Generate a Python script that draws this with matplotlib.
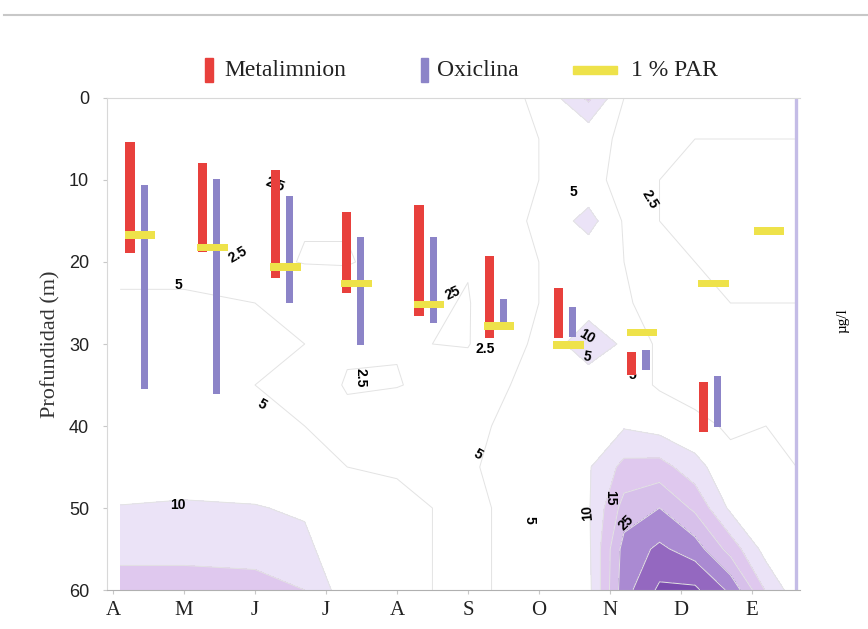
import matplotlib.pyplot as plt
import numpy as np
from matplotlib.lines import Line2D
from matplotlib.patches import Rectangle

# Meses (posicion 0..9)
meses = ['A', 'M', 'J', 'J', 'A', 'S', 'O', 'N', 'D', 'E']

# Fechas de muestreo (en unidades de mes)
fechas = [0.34, 1.36, 2.39, 3.39, 4.41, 5.40, 6.38, 7.41, 8.42, 9.20]

# Limites del metalimnion y de la oxiclina (m)
meta_sup = [5.4, 7.9, 8.8, 13.9, 13.1, 19.3, 23.2, 31.0, 34.6]
meta_inf = [18.9, 18.8, 22.0, 23.8, 26.6, 29.3, 29.3, 33.8, 40.7]
oxi_sup = [10.6, 9.9, 12.0, 16.9, 16.9, 24.5, 25.5, 30.7, 33.9]
oxi_inf = [35.5, 36.1, 25.0, 30.1, 27.5, 28.3, 29.1, 33.2, 40.1]

# Profundidad del 1 % PAR (m)
par = [16.7, 18.2, 20.6, 22.6, 25.2, 27.8, 30.1, 28.6, 22.6, 16.2]

# Malla del campo de isolineas
x_malla = [0.1, 1.0, 2.0, 2.7, 3.3, 4.0, 5.0, 6.0, 6.7, 7.2, 7.7, 8.2, 8.7, 9.2, 9.63]
prof_malla = [0, 5, 10, 15, 20, 25, 30, 35, 40, 45, 50, 55, 60]
# cada fila = una columna de x_malla, valores de 0 a 60 m
valores = [
    [4.0, 4.0, 3.0, 3.0, 4.0, 5.5, 6.0, 6.0, 6.5, 7.5, 10.2, 13.0, 18.0],
    [4.0, 3.5, 3.0, 3.0, 4.0, 5.5, 6.0, 6.0, 6.5, 8.0, 10.5, 13.0, 18.0],
    [3.0, 3.0, 2.6, 2.6, 3.0, 5.0, 5.5, 5.0, 6.0, 8.0, 10.2, 13.0, 17.0],
    [3.0, 2.8, 2.6, 2.6, 2.4, 4.5, 5.0, 4.5, 5.0, 7.0, 9.5, 11.0, 15.0],
    [3.0, 2.8, 2.6, 2.6, 2.4, 3.5, 3.0, 2.2, 3.5, 5.0, 6.0, 7.0, 7.0],
    [3.0, 2.8, 2.6, 2.6, 3.0, 3.0, 2.6, 2.4, 4.0, 4.8, 5.5, 5.5, 5.5],
    [3.0, 2.8, 2.6, 2.6, 2.6, 2.4, 2.4, 3.5, 4.5, 4.8, 4.5, 4.5, 4.5],
    [5.5, 5.0, 5.0, 5.5, 5.0, 5.0, 5.5, 6.0, 6.0, 6.0, 6.0, 6.0, 6.0],
    [16.0, 6.0, 6.0, 12.0, 6.0, 7.0, 14.0, 6.0, 9.5, 9.5, 9.5, 9.0, 8.5],
    [5.0, 4.5, 4.0, 4.5, 5.0, 5.5, 9.0, 7.0, 9.5, 16.5, 22.0, 27.0, 28.0],
    [3.5, 3.0, 2.5, 2.5, 3.0, 3.5, 4.0, 4.5, 8.0, 17.0, 25.0, 31.0, 36.0],
    [3.0, 2.5, 2.0, 2.0, 2.5, 3.0, 3.0, 3.5, 6.0, 12.0, 19.0, 27.5, 36.0],
    [3.0, 2.5, 2.0, 2.0, 2.0, 2.5, 3.0, 3.5, 4.5, 6.0, 9.0, 18.0, 29.0],
    [3.0, 2.5, 2.0, 2.0, 2.0, 2.5, 3.0, 4.0, 5.0, 5.5, 6.0, 8.0, 14.5],
    [3.0, 2.5, 2.0, 2.0, 2.0, 2.5, 3.0, 4.0, 5.0, 5.0, 5.0, 5.0, 7.0],
]

# Etiquetas de las isolineas: texto, x, profundidad, rotacion
etiquetas = [
    ('2.5', 1.76, 19.1, 30), ('5', 0.92, 22.8, 0), ('2.5', 2.28, 10.6, -20),
    ('25', 4.79, 23.8, 25), ('2.5', 5.24, 30.6, 0), ('2.5', 3.48, 34.1, -90),
    ('5', 2.10, 37.4, -30), ('5', 5.14, 43.5, -30), ('10', 0.92, 49.6, 0),
    ('5', 5.87, 51.5, -90), ('10', 6.69, 50.6, 95), ('15', 7.01, 48.8, -90),
    ('25', 7.23, 51.8, 45), ('5', 6.49, 11.5, 0), ('2.5', 7.56, 12.4, -60),
    ('10', 6.68, 29.1, -30), ('5', 6.68, 31.6, -10), ('5', 7.32, 33.8, 0),
]

niveles = [10, 15, 20, 25, 30, 35, 45]
colores = ['#ebe3f7', '#dfc8ee', '#d7c0ea', '#aa8ad2', '#9468c0', '#7b4cae']

rojo = '#e8403c'
morado = '#8c84c8'
amarillo = '#eee24a'

fig = plt.figure(figsize=(8.68, 6.29), dpi=100)
ax = fig.add_axes([0.1233, 0.062, 0.7984, 0.7822])

X, Y = np.meshgrid(x_malla, prof_malla)
Z = np.array(valores).T
ax.contourf(X, Y, Z, levels=niveles, colors=colores, zorder=1)
ax.contour(X, Y, Z, levels=[2.5, 5] + niveles[:-1], colors='#e3e3e3',
           linewidths=0.7, zorder=2)

for txt, xe, ye, rot in etiquetas:
    ax.text(xe, ye, txt, fontsize=10, color='black', rotation=rot,
            ha='center', va='center', family='Liberation Sans',
            fontweight='bold', zorder=3)

# borde derecho del campo
ax.axvline(x_malla[-1], color='#c4bce6', lw=2.4, zorder=2)

# Barras de metalimnion y oxiclina
n = len(meta_sup)
xf = np.array(fechas[:n])
ax.bar(xf - 0.1, np.array(meta_inf) - np.array(meta_sup), bottom=meta_sup,
       width=0.13, color=rojo, zorder=4)
ax.bar(xf + 0.1, np.array(oxi_inf) - np.array(oxi_sup), bottom=oxi_sup,
       width=0.1, color=morado, zorder=4)
# 1 % PAR
ax.bar(np.array(fechas) + 0.04, 0.9, bottom=np.array(par) - 0.45,
       width=0.43, color=amarillo, zorder=5)

ax.set_xlim(-0.085, 9.68)
ax.set_ylim(60, 0)
ax.set_xticks(range(len(meses)))
ax.set_xticklabels(meses, family='Liberation Serif', fontsize=15, color='#222222')
ax.set_yticks([0, 10, 20, 30, 40, 50, 60])
ax.set_yticklabels(['0', '10', '20', '30', '40', '50', '60'],
                   family='Liberation Sans', fontsize=13, color='#222222')
ax.tick_params(axis='both', length=3, color='#c8c8c8')
ax.tick_params(axis='x', pad=5)
ax.tick_params(axis='y', pad=10)
ax.set_ylabel('Profundidad (m)', family='Liberation Serif', fontsize=16,
              color='#333333', labelpad=6)

ax.spines['right'].set_visible(False)
ax.spines['left'].set_color('#d8d8d8')
ax.spines['top'].set_color('#d8d8d8')
ax.spines['bottom'].set_color('#b0b0b0')

# Leyenda (dibujada a mano para reproducir los simbolos)
fig.add_artist(Rectangle((0.2362, 0.870), 0.0095, 0.038, color=rojo))
fig.text(0.258, 0.888, 'Metalimnion', family='Liberation Serif', fontsize=17,
         va='center', ha='left', color='#222222')
fig.add_artist(Rectangle((0.4855, 0.870), 0.0075, 0.038, color=morado))
fig.text(0.503, 0.888, 'Oxiclina', family='Liberation Serif', fontsize=17,
         va='center', ha='left', color='#222222')
fig.add_artist(Rectangle((0.660, 0.882), 0.051, 0.013, color=amarillo))
fig.text(0.727, 0.888, '1 % PAR', family='Liberation Serif', fontsize=17,
         va='center', ha='left', color='#222222')

fig.text(0.971, 0.49, 'µg/l', rotation=90, family='Liberation Serif',
         fontsize=11, ha='center', va='center')
fig.add_artist(Line2D([0.005, 1.0], [0.976, 0.976], color='#c8c8c8', lw=1.5))

fig.savefig('out.png', dpi=100)
